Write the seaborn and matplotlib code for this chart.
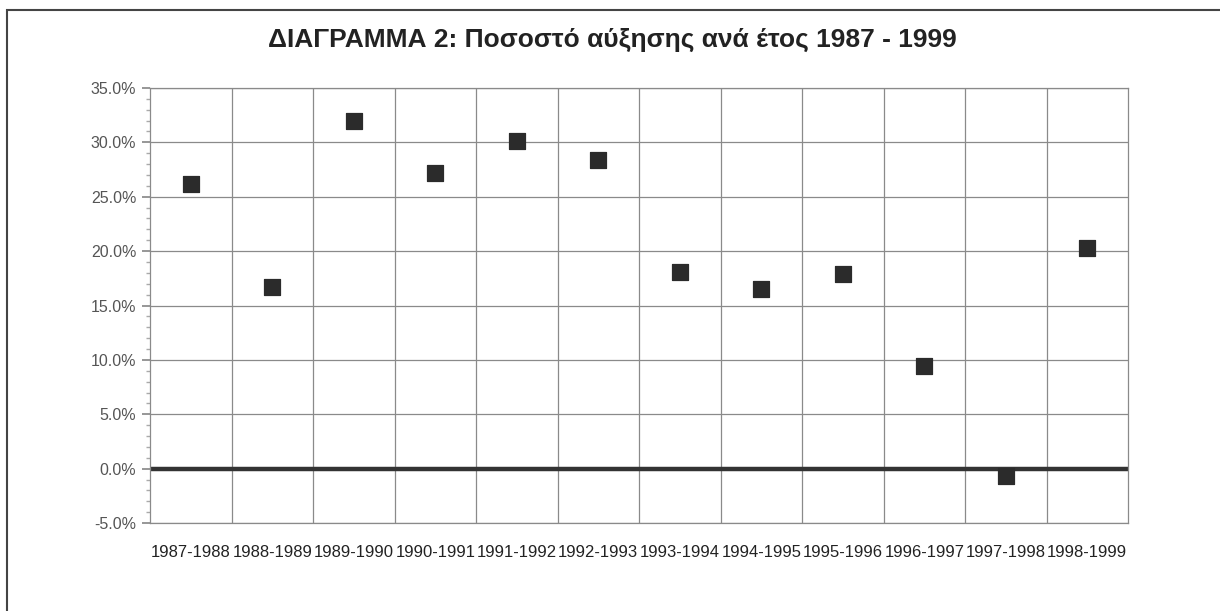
import matplotlib
matplotlib.use("Agg")
import matplotlib.pyplot as plt
import seaborn as sns
import pandas as pd
from matplotlib.ticker import FixedLocator, FuncFormatter, MultipleLocator
from matplotlib.patches import Rectangle

periods = ["1987-1988", "1988-1989", "1989-1990", "1990-1991", "1991-1992", "1992-1993",
           "1993-1994", "1994-1995", "1995-1996", "1996-1997", "1997-1998", "1998-1999"]
growth = [26.2, 16.7, 32.0, 27.2, 30.1, 28.4, 18.1, 16.5, 17.9, 9.4, -0.7, 20.3]

df = pd.DataFrame({"period": periods, "growth": growth})

sns.set_theme(style="white")
plt.rcParams['font.family'] = ['Liberation Sans', 'DejaVu Sans']

fig = plt.figure(figsize=(12.2, 6.11), dpi=100)
ax = fig.add_axes([0.123, 0.144, 0.8016, 0.712])

sns.scatterplot(data=df, x="period", y="growth", marker="s", s=120,
                color="#2b2b2b", edgecolor="#2b2b2b", ax=ax, zorder=3)

ax.set_xlim(-0.5, len(periods) - 0.5)
ax.set_ylim(-5, 35)
ax.yaxis.set_major_locator(MultipleLocator(5))
ax.yaxis.set_minor_locator(MultipleLocator(1))
ax.yaxis.set_major_formatter(FuncFormatter(lambda v, p: f"{v:.1f}%"))
ax.xaxis.set_minor_locator(FixedLocator([i + 0.5 for i in range(len(periods) - 1)]))

ax.grid(True, axis="y", which="major", color="#8a8a8a", linewidth=0.9)
ax.grid(True, axis="x", which="minor", color="#8a8a8a", linewidth=0.9)
ax.grid(False, axis="x", which="major")
ax.axhline(0, color="#333333", linewidth=3.2, zorder=2)

for sp in ax.spines.values():
    sp.set_color("#8a8a8a")
    sp.set_linewidth(0.9)

ax.tick_params(axis="y", which="major", left=True, length=6, color="#8a8a8a",
               labelsize=11.5, labelcolor="#555555", pad=4)
ax.tick_params(axis="y", which="minor", left=True, length=3, color="#aaaaaa")
ax.tick_params(axis="x", which="both", bottom=False, labelsize=12,
               labelcolor="#222222", pad=10)
ax.set_xlabel("")
ax.set_ylabel("")

fig.text(0.502, 0.934, "ΔΙΑΓΡΑΜΜΑ 2: Ποσοστό αύξησης ανά έτος 1987 - 1999",
         ha="center", va="center", fontsize=19, fontweight="bold",
         family=["Liberation Sans", "DejaVu Sans"], color="#222222")

fig.patches.append(Rectangle((0.006, -0.1), 1.1, 1.084, transform=fig.transFigure,
                             fill=False, edgecolor="#444444", linewidth=1.5))

fig.savefig("out.png", dpi=100)
